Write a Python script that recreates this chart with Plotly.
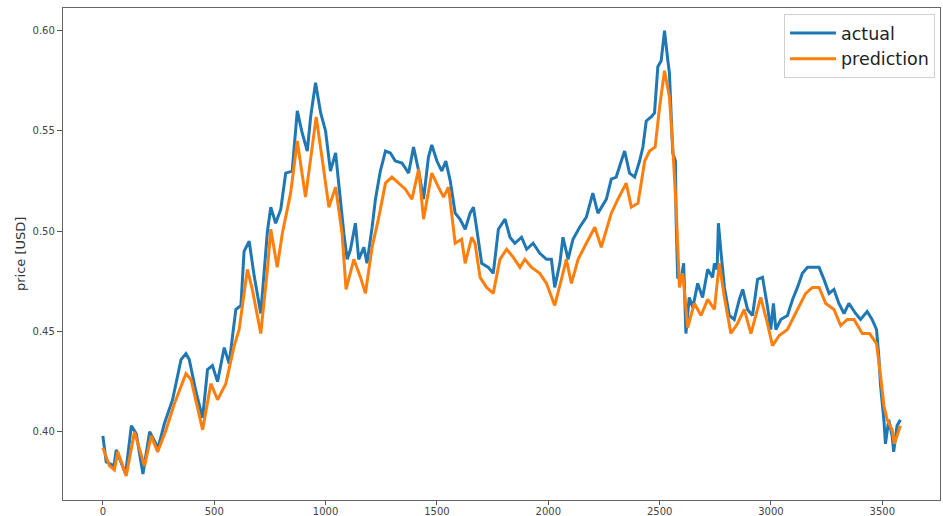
import plotly.graph_objects as go

# ---- data (index, price) ----
actual_idx = [0, 15, 50, 60, 102, 115, 128, 150, 180, 210, 248, 276, 313, 351, 373, 388,
              418, 448, 470, 492, 515, 545, 567, 597, 620, 634, 657, 679, 709, 739, 754,
              776, 799, 821, 850, 873, 895, 918, 933, 955, 978, 1000, 1022, 1045, 1060,
              1082, 1097, 1112, 1134, 1149, 1172, 1186, 1209, 1224, 1246, 1269, 1291,
              1313, 1343, 1373, 1395, 1418, 1440, 1462, 1477, 1500, 1522, 1540, 1560,
              1582, 1604, 1627, 1649, 1664, 1679, 1701, 1731, 1753, 1776, 1806, 1828,
              1850, 1880, 1903, 1932, 1962, 1992, 2014, 2029, 2052, 2066, 2089, 2111,
              2141, 2171, 2200, 2223, 2238, 2261, 2283, 2305, 2328, 2343, 2365, 2388,
              2410, 2425, 2440, 2462, 2477, 2492, 2507, 2522, 2537, 2544, 2559, 2571,
              2574, 2581, 2596, 2608, 2618, 2633, 2649, 2671, 2693, 2716, 2738, 2746,
              2758, 2764, 2776, 2791, 2813, 2835, 2858, 2873, 2895, 2917, 2940, 2962,
              2985, 2999, 3011, 3022, 3044, 3074, 3097, 3119, 3141, 3164, 3194, 3216,
              3238, 3261, 3283, 3305, 3328, 3350, 3380, 3402, 3432, 3454, 3474, 3484,
              3492, 3507, 3514, 3529, 3544, 3551, 3566, 3581]
actual_val = [0.398, 0.385, 0.383, 0.391, 0.379, 0.392, 0.403, 0.399, 0.379, 0.400, 0.392,
              0.404, 0.416, 0.436, 0.439, 0.436, 0.420, 0.407, 0.431, 0.433, 0.425, 0.442,
              0.434, 0.461, 0.463, 0.490, 0.495, 0.478, 0.459, 0.500, 0.512, 0.504, 0.511,
              0.529, 0.530, 0.560, 0.549, 0.540, 0.557, 0.574, 0.559, 0.550, 0.530, 0.539,
              0.522, 0.499, 0.486, 0.491, 0.504, 0.486, 0.492, 0.484, 0.502, 0.516, 0.530,
              0.540, 0.539, 0.535, 0.534, 0.529, 0.542, 0.530, 0.516, 0.537, 0.543, 0.535,
              0.530, 0.535, 0.525, 0.509, 0.506, 0.501, 0.509, 0.512, 0.501, 0.484, 0.482,
              0.479, 0.501, 0.506, 0.497, 0.494, 0.497, 0.491, 0.494, 0.489, 0.486, 0.486,
              0.472, 0.484, 0.497, 0.486, 0.496, 0.502, 0.507, 0.519, 0.509, 0.512, 0.516,
              0.526, 0.527, 0.535, 0.540, 0.529, 0.527, 0.535, 0.542, 0.555, 0.557, 0.559,
              0.582, 0.585, 0.600, 0.585, 0.579, 0.539, 0.535, 0.506, 0.477, 0.476, 0.484,
              0.449, 0.467, 0.462, 0.474, 0.467, 0.481, 0.477, 0.484, 0.481, 0.504, 0.489,
              0.472, 0.458, 0.456, 0.466, 0.471, 0.461, 0.458, 0.476, 0.477, 0.462, 0.451,
              0.464, 0.451, 0.456, 0.458, 0.466, 0.472, 0.479, 0.482, 0.482, 0.482, 0.476,
              0.469, 0.471, 0.464, 0.459, 0.464, 0.459, 0.456, 0.460, 0.456, 0.451, 0.438,
              0.423, 0.406, 0.394, 0.406, 0.398, 0.390, 0.403, 0.406]

pred_idx = [0, 30, 52, 67, 105, 142, 187, 217, 246, 284, 321, 373, 396, 448, 485, 515, 552,
            590, 612, 649, 671, 709, 739, 754, 783, 806, 843, 873, 910, 933, 958, 985, 1015,
            1045, 1074, 1092, 1127, 1157, 1179, 1209, 1239, 1269, 1298, 1328, 1358, 1388,
            1418, 1440, 1477, 1507, 1530, 1552, 1582, 1611, 1627, 1656, 1671, 1694, 1723,
            1753, 1783, 1813, 1843, 1873, 1895, 1925, 1962, 1992, 2029, 2059, 2081, 2104,
            2134, 2171, 2209, 2238, 2283, 2313, 2350, 2373, 2403, 2433, 2455, 2480, 2500,
            2522, 2544, 2559, 2574, 2589, 2604, 2626, 2656, 2686, 2716, 2746, 2768, 2791,
            2820, 2850, 2880, 2910, 2954, 2984, 3007, 3037, 3074, 3119, 3156, 3186, 3216,
            3246, 3283, 3313, 3343, 3373, 3410, 3443, 3474, 3492, 3507, 3522, 3544, 3554,
            3574, 3581]
pred_val = [0.392, 0.383, 0.381, 0.390, 0.378, 0.400, 0.383, 0.398, 0.390, 0.401, 0.414,
            0.429, 0.426, 0.401, 0.424, 0.416, 0.424, 0.443, 0.451, 0.481, 0.471, 0.449,
            0.481, 0.501, 0.482, 0.499, 0.519, 0.545, 0.517, 0.536, 0.557, 0.536, 0.512,
            0.522, 0.499, 0.471, 0.486, 0.477, 0.469, 0.492, 0.507, 0.524, 0.527, 0.524,
            0.521, 0.516, 0.531, 0.506, 0.529, 0.522, 0.517, 0.522, 0.494, 0.496, 0.484,
            0.497, 0.494, 0.477, 0.472, 0.469, 0.486, 0.491, 0.487, 0.482, 0.486, 0.482,
            0.479, 0.474, 0.463, 0.476, 0.486, 0.474, 0.486, 0.494, 0.502, 0.492, 0.509,
            0.516, 0.524, 0.512, 0.514, 0.535, 0.540, 0.542, 0.562, 0.580, 0.567, 0.542,
            0.512, 0.472, 0.479, 0.452, 0.464, 0.458, 0.466, 0.461, 0.484, 0.467, 0.449,
            0.454, 0.461, 0.449, 0.467, 0.454, 0.443, 0.448, 0.451, 0.461, 0.469, 0.472,
            0.472, 0.464, 0.461, 0.453, 0.456, 0.456, 0.449, 0.449, 0.444, 0.428, 0.413,
            0.406, 0.401, 0.394, 0.401, 0.403]

x_ticks = [0, 500, 1000, 1500, 2000, 2500, 3000, 3500]
y_ticks = [0.40, 0.45, 0.50, 0.55, 0.60]
y_tick_labels = ["0.40", "0.45", "0.50", "0.55", "0.60"]

fig = go.Figure()
fig.add_trace(go.Scatter(x=actual_idx, y=actual_val, mode="lines", name="actual",
                         line=dict(color="#1f77b4", width=3)))
fig.add_trace(go.Scatter(x=pred_idx, y=pred_val, mode="lines", name="prediction",
                         line=dict(color="#ff7f0e", width=3)))

tick_font = dict(family="DejaVu Sans", size=10, color="#444")
fig.update_layout(
    width=943, height=516,
    margin=dict(l=63, r=3, t=8, b=16, autoexpand=False),
    paper_bgcolor="white", plot_bgcolor="white",
    showlegend=True,
    legend=dict(x=0.9943, y=0.9878, xanchor="right", yanchor="top",
                font=dict(family="DejaVu Sans", size=17.5, color="#222"),
                bgcolor="rgba(255,255,255,0.9)", bordercolor="#d0d0d0", borderwidth=1,
                itemwidth=46, tracegroupgap=0),
    xaxis=dict(range=[-179, 3759], tickmode="array", tickvals=x_ticks,
               ticks="outside", ticklen=4, tickcolor="#555", tickwidth=1,
               showgrid=False, zeroline=False, showline=True, linecolor="#666",
               linewidth=1.3, mirror=True, tickfont=tick_font, automargin=False,
               ticklabelstandoff=-2),
    yaxis=dict(range=[0.366, 0.6113], tickmode="array", tickvals=y_ticks,
               ticktext=y_tick_labels, ticks="outside", ticklen=5, tickcolor="#555",
               tickwidth=1, showgrid=False, zeroline=False, showline=True,
               linecolor="#666", linewidth=1.3, mirror=True, tickfont=tick_font,
               automargin=False),
    annotations=[dict(text="price [USD]", xref="paper", yref="paper",
                      x=-0.049, y=0.5, xanchor="center", yanchor="middle",
                      textangle=-90, showarrow=False,
                      font=dict(family="DejaVu Sans", size=13, color="#333"))],
)

fig.write_html("out.html")
